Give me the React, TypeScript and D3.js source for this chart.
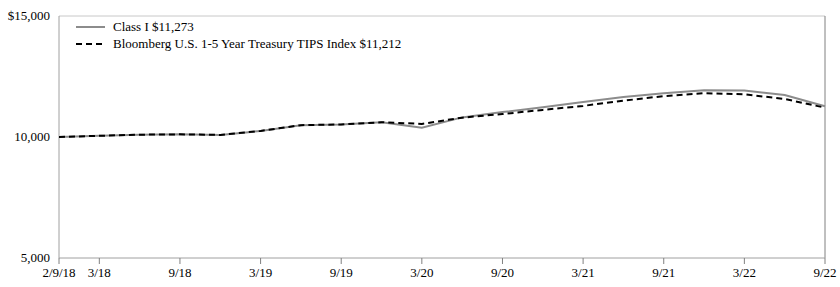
import React from "react";
import * as d3 from "d3";

const dates = ["2/9/18","3/18","6/18","9/18","12/18","3/19","6/19","9/19","12/19","3/20","6/20","9/20","12/20","3/21","6/21","9/21","12/21","3/22","6/22","9/22"];
const classI = [10000,10050,10095,10110,10085,10250,10490,10520,10610,10385,10810,11030,11230,11450,11650,11810,11935,11925,11735,11273];
const tips   = [10000,10050,10095,10110,10085,10250,10490,10520,10610,10540,10800,10950,11120,11285,11500,11690,11810,11765,11570,11212];
const xTickLabels = ["2/9/18","3/18","9/18","3/19","9/19","3/20","9/20","3/21","9/21","3/22","9/22"];
const yTicks = [5000, 10000, 15000];
const yTickLabels = ["5,000", "10,000", "$15,000"];
const legendLabels = ["Class I $11,273", "Bloomberg U.S. 1-5 Year Treasury TIPS Index $11,212"];

export default function App() {
  const W = 840, H = 287;
  const L = 59, R = 825, T = 16, B = 258;
  const x = d3.scaleLinear().domain([0, dates.length - 1]).range([L, R]);
  const y = d3.scaleLinear().domain([5000, 15000]).range([B, T]);
  const line = d3.line<number>().x((_, i) => x(i)).y((d) => y(d));
  const font = "'Liberation Serif', 'Times New Roman', serif";
  return (
    <svg width={W} height={H} style={{ position: "absolute", left: 0, top: 0 }} fontFamily={font}>
      <rect x={0} y={0} width={W} height={H} fill="#fff" />
      <line x1={L} x2={R} y1={T} y2={T} stroke="#c8c8c8" strokeWidth={1} />
      <line x1={R} x2={R} y1={T} y2={B} stroke="#808080" strokeWidth={1} />
      <line x1={L} x2={L} y1={T} y2={B} stroke="#a0a0a0" strokeWidth={1} />
      <line x1={L} x2={R} y1={B} y2={B} stroke="#a0a0a0" strokeWidth={1} />
      {yTicks.map((t, i) => (
        <text key={t} x={50} y={y(t) + 4} textAnchor="end" fontSize={13} fill="#000">{yTickLabels[i]}</text>
      ))}
      {xTickLabels.map((lab) => {
        const i = dates.indexOf(lab);
        return (
          <g key={lab}>
            <line x1={x(i)} x2={x(i)} y1={B} y2={B + 6} stroke="#808080" />
            <text x={x(i)} y={B + 19} textAnchor="middle" fontSize={13} fill="#000">{lab}</text>
          </g>
        );
      })}
      <path d={line(classI) || ""} fill="none" stroke="#8c8c8c" strokeWidth={2} />
      <path d={line(tips) || ""} fill="none" stroke="#000" strokeWidth={2} strokeDasharray="6,4" />
      <line x1={76} x2={105} y1={27} y2={27} stroke="#8c8c8c" strokeWidth={2} />
      <text x={113} y={31} fontSize={13} fill="#000">{legendLabels[0]}</text>
      <line x1={76} x2={105} y1={44} y2={44} stroke="#000" strokeWidth={2} strokeDasharray="6,4" />
      <text x={113} y={48} fontSize={13} fill="#000">{legendLabels[1]}</text>
    </svg>
  );
}
